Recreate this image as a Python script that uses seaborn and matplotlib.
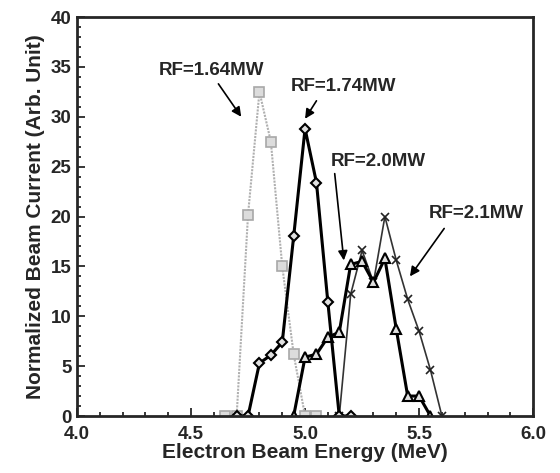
import pandas as pd
import numpy as np
import matplotlib
matplotlib.use('Agg')
import matplotlib.pyplot as plt
from matplotlib.ticker import MultipleLocator
import seaborn as sns

# energy (MeV) and normalized current for each RF power
e_164 = [4.65, 4.7, 4.75, 4.8, 4.85, 4.9, 4.95, 5.0, 5.05]
i_164 = [0, 0, 20.2, 32.5, 27.5, 15.0, 6.2, 0, 0]

e_174 = [4.7, 4.75, 4.8, 4.85, 4.9, 4.95, 5.0, 5.05, 5.1, 5.15, 5.2]
i_174 = [0, 0, 5.3, 6.1, 7.4, 18.0, 28.8, 23.4, 11.4, 0, 0]

e_200 = [4.95, 5.0, 5.05, 5.1, 5.15, 5.2, 5.25, 5.3, 5.35, 5.4, 5.45, 5.5, 5.55]
i_200 = [0, 5.9, 6.2, 7.9, 8.4, 15.2, 15.5, 13.4, 15.8, 8.7, 2.0, 2.0, 0]

e_210 = [5.15, 5.2, 5.25, 5.3, 5.35, 5.4, 5.45, 5.5, 5.55, 5.6]
i_210 = [0, 12.2, 16.6, 13.4, 20.0, 15.6, 11.7, 8.5, 4.6, 0]

labels = ['RF=1.64MW', 'RF=1.74MW', 'RF=2.0MW', 'RF=2.1MW']

sns.set_style('ticks')
plt.rcParams['font.family'] = ['Liberation Sans', 'DejaVu Sans']
plt.rcParams['font.weight'] = 'bold'

fig = plt.figure(figsize=(5.6, 4.73), dpi=100)
ax = fig.add_axes([0.1375, 0.1205, 0.8145, 0.8435])

df1 = pd.DataFrame({'E': e_164, 'I': i_164})
df2 = pd.DataFrame({'E': e_174, 'I': i_174})
df3 = pd.DataFrame({'E': e_200, 'I': i_200})
df4 = pd.DataFrame({'E': e_210, 'I': i_210})

sns.lineplot(x='E', y='I', data=df1, ax=ax, sort=False, estimator=None,
             color='#b0b0b0', lw=1.5, ls=(0, (1, 0.6)), marker='s', ms=7,
             mfc='#dcdcdc', mec='#a8a8a8', mew=1.2)
sns.lineplot(x='E', y='I', data=df4, ax=ax, sort=False, estimator=None,
             color='#333333', lw=1.2, marker='x', ms=6, mec='#222222', mew=1.2)
sns.lineplot(x='E', y='I', data=df3, ax=ax, sort=False, estimator=None,
             color='black', lw=2.2, marker='^', ms=7,
             mfc='#e0e0e0', mec='black', mew=1.5)
sns.lineplot(x='E', y='I', data=df2, ax=ax, sort=False, estimator=None,
             color='black', lw=2.2, marker='D', ms=5,
             mfc='#e0e0e0', mec='black', mew=1.5)

# annotations: (text pos, arrow tail, arrow head)
notes = [
    (labels[0], (4.59, 34.6), (4.62, 33.3), (4.72, 30.0)),
    (labels[1], (5.17, 33.0), (5.05, 31.6), (5.00, 29.8)),
    (labels[2], (5.32, 25.5), (5.13, 24.3), (5.17, 15.6)),
    (labels[3], (5.75, 20.3), (5.61, 18.8), (5.46, 14.0)),
]
for txt, tpos, tail, head in notes:
    ax.text(tpos[0], tpos[1], txt, ha='center', va='center',
            fontsize=13.5, fontweight='bold')
    ax.annotate('', xy=head, xytext=tail,
                arrowprops=dict(arrowstyle='-|>', color='black', lw=1.2,
                                mutation_scale=14, shrinkA=0, shrinkB=0))

ax.set_xlim(4.0, 6.0)
ax.set_ylim(0, 40)
ax.xaxis.set_major_locator(MultipleLocator(0.5))
ax.xaxis.set_minor_locator(MultipleLocator(0.1))
ax.yaxis.set_major_locator(MultipleLocator(5))
ax.yaxis.set_minor_locator(MultipleLocator(1))
ax.xaxis.set_major_formatter(plt.FuncFormatter(lambda v, p: '%.1f' % v))
ax.tick_params(which='both', direction='in', top=False, right=False,
               labelsize=13.5, width=1.3)
ax.tick_params(axis='x', pad=7)
ax.tick_params(axis='y', pad=4)
ax.tick_params(which='major', length=6)
ax.tick_params(which='minor', length=3)
for lab in ax.get_xticklabels() + ax.get_yticklabels():
    lab.set_fontweight('bold')
for s in ax.spines.values():
    s.set_linewidth(2)
    s.set_visible(True)

ax.set_xlabel('Electron Beam Energy (MeV)', fontsize=15, fontweight='bold', labelpad=0)
ax.set_ylabel('Normalized Beam Current (Arb. Unit)', fontsize=15, fontweight='bold', labelpad=4)

fig.savefig('out.png', dpi=100)
